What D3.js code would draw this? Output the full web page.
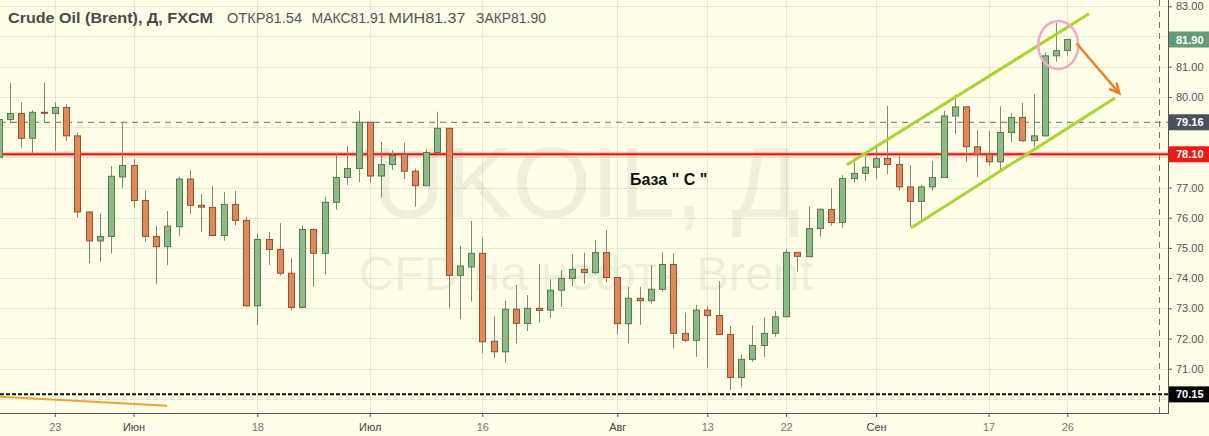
<!DOCTYPE html>
<html><head><meta charset="utf-8">
<script src="https://cdn.jsdelivr.net/npm/d3@7"></script>
<style>
html,body{margin:0;padding:0;background:#fefee9;}
svg{display:block;font-family:"Liberation Sans",Arial,sans-serif;}
</style></head>
<body><svg id="c" width="1209" height="436"></svg>
<script>
// Daily candles, Crude Oil (Brent) FXCM, index 0 = 16 May 2018
const open  = [78.00,79.25,79.45,78.63,79.49,79.45,79.65,78.71,76.19,75.23,75.38,77.35,77.73,76.57,75.38,75.04,75.70,77.28,76.41,76.34,
               75.41,76.44,75.91,73.08,75.28,74.95,74.16,73.03,75.61,74.82,76.51,77.33,77.63,79.16,77.38,77.76,78.10,77.54,77.06,78.16,
               78.96,74.09,74.37,74.82,71.91,71.56,72.97,72.50,73.00,72.94,73.60,73.99,74.29,74.18,74.85,74.02,72.49,73.33,73.25,73.63,
               74.45,72.17,71.94,72.94,72.76,72.13,70.71,71.31,71.77,72.17,72.72,74.85,74.71,75.64,76.27,75.84,77.30,77.47,77.67,77.96,
               77.76,77.02,76.54,77.02,77.33,79.37,79.67,78.35,78.10,77.85,78.82,79.32,78.55,78.71,81.36,81.54];
const high  = [79.39,80.47,79.82,79.56,80.47,79.82,79.75,78.82,76.21,76.14,77.71,79.16,77.94,76.91,75.73,76.22,77.35,77.58,76.80,77.05,
               76.85,76.89,76.02,75.46,75.53,75.82,74.66,75.75,75.64,76.69,78.15,78.37,79.53,79.18,78.51,78.24,78.48,77.63,78.26,79.51,
               78.98,75.07,75.89,75.33,72.74,73.25,73.77,73.44,74.46,73.97,74.26,74.79,74.84,75.26,75.59,74.04,73.71,73.71,74.43,74.86,
               74.82,72.86,73.11,73.07,73.90,72.41,71.47,72.44,72.70,72.91,74.96,74.87,76.38,76.30,76.97,77.41,77.98,78.02,78.35,79.70,
               78.07,77.74,77.08,77.88,79.53,80.08,79.69,78.90,78.87,79.69,79.47,79.80,80.09,81.46,82.45,81.91];
const low   = [77.89,79.12,78.31,78.10,79.14,78.21,78.55,76.00,74.49,74.54,74.82,76.97,76.33,75.20,73.80,74.43,75.40,76.12,75.53,75.39,
               75.24,75.75,73.05,72.44,74.43,74.08,72.92,73.00,73.71,74.12,76.27,77.08,77.18,77.16,76.67,77.58,77.28,76.36,77.04,78.13,
               73.00,72.64,73.22,71.51,71.36,71.20,71.84,72.25,72.53,72.67,73.05,73.73,73.82,74.12,73.86,72.13,71.84,72.45,73.16,73.55,
               71.67,71.87,71.39,71.03,72.13,70.29,70.40,71.23,71.39,72.06,72.70,74.21,74.69,75.37,75.73,75.67,77.16,77.22,77.28,77.44,
               76.89,75.70,75.94,76.89,77.31,78.76,77.85,77.35,77.72,77.60,78.49,78.51,78.35,78.69,81.16,81.37];
const close = [79.25,79.45,78.63,79.49,79.46,79.65,78.71,76.19,75.23,75.38,77.37,77.73,76.57,75.38,75.04,75.72,77.28,76.41,76.35,75.41,
               76.44,75.91,73.08,75.28,74.95,74.16,73.03,75.61,74.82,76.51,77.33,77.63,79.16,77.38,77.76,78.06,77.54,77.06,78.16,78.96,
               74.09,74.40,74.82,71.89,71.56,72.97,72.50,73.00,72.93,73.60,73.99,74.29,74.18,74.85,74.02,72.49,73.33,73.25,73.63,74.45,
               72.17,71.94,72.94,72.76,72.13,70.71,71.31,71.77,72.17,72.72,74.85,74.72,75.64,76.28,75.84,77.30,77.47,77.67,77.96,77.76,
               77.02,76.54,77.02,77.33,79.37,79.67,78.35,78.10,77.85,78.82,79.32,78.55,78.71,81.36,81.53,81.90];

const xTickIndex  = [5,12,23,33,43,55,63,70,78,88,95];
const xTickLabels = ["23","Июн","18","Июл","16","Авг","13","22","Сен","17","26"];
const monthLabels = ["Июн","Июл","Авг","Сен"];
const yTicks = [70,71,72,73,74,75,76,77,78,79,80,81,82,83];

// levels / drawings (index, price)
const levelSupport = 78.10;
const levelPrevClose = 79.16;
const levelLow = 70.15;
const lastPrice = 81.90;
const channelUpper = [[75.42,77.75],[96.93,82.75]];
const channelLower = [[81.11,75.66],[99.24,79.96]];
const orangeLine = [[0,70.07],[15,69.77]];
const arrowPts = [[95.84,81.77],[99.63,80.12]];
const circleCenter = [94.2,81.72];

const W = 1209, H = 436, axisX = 1168, axisY = 413;
const svg = d3.select("#c");
const x = d3.scaleLinear().domain([0,95]).range([-1.5,1067.25]);
const y = d3.scaleLinear().domain([70,83]).range([398.9,6.3]);

svg.append("rect").attr("width",W).attr("height",H).attr("fill","#fefee9");
const plot = svg.append("g");
plot.append("defs").append("clipPath").attr("id","pc").append("rect").attr("width",axisX).attr("height",axisY);
const g = plot.append("g").attr("clip-path","url(#pc)");

// grid
g.selectAll(".hg").data(yTicks).join("line")
  .attr("x1",0).attr("x2",axisX).attr("y1",d=>Math.round(y(d))+0.5).attr("y2",d=>Math.round(y(d))+0.5)
  .attr("stroke","#e9e9cf").attr("stroke-width",1);
g.selectAll(".vg").data(xTickIndex).join("line")
  .attr("y1",0).attr("y2",axisY).attr("x1",d=>Math.round(x(d))+0.5).attr("x2",d=>Math.round(x(d))+0.5)
  .attr("stroke","#e9e9cf").attr("stroke-width",1);

// watermark
g.append("text").attr("x",586).attr("y",217).attr("text-anchor","middle")
  .attr("font-size",101).attr("fill","#000").attr("fill-opacity",0.06).text("UKOIL, Д");
g.append("text").attr("x",586).attr("y",290).attr("text-anchor","middle")
  .attr("font-size",49).attr("fill","#000").attr("fill-opacity",0.06).text("CFD на нефть Brent");

// vertical dashed line near axis
g.append("line").attr("x1",1159.5).attr("x2",1159.5).attr("y1",0).attr("y2",axisY)
  .attr("stroke","#777").attr("stroke-dasharray","6,5");

// horizontal levels
g.append("line").attr("x1",0).attr("x2",axisX).attr("y1",y(levelPrevClose)).attr("y2",y(levelPrevClose))
  .attr("stroke","#6d6d6d").attr("stroke-dasharray","6,5");
g.append("line").attr("x1",0).attr("x2",axisX).attr("y1",y(levelSupport)).attr("y2",y(levelSupport))
  .attr("stroke","#ff9a9a").attr("stroke-width",5).attr("stroke-opacity",0.5);
g.append("line").attr("x1",0).attr("x2",axisX).attr("y1",y(levelSupport)).attr("y2",y(levelSupport))
  .attr("stroke","#f01010").attr("stroke-width",2);
g.append("line").attr("x1",0).attr("x2",axisX).attr("y1",y(levelLow)).attr("y2",y(levelLow))
  .attr("stroke","#111").attr("stroke-width",2).attr("stroke-dasharray","4,2");

// candles
const data = open.map((o,i)=>({i,o,h:high[i],l:low[i],c:close[i]}));
const bw = 6;
const cg = g.append("g");
cg.selectAll(".wick").data(data).join("line")
  .attr("x1",d=>Math.round(x(d.i))+0.5).attr("x2",d=>Math.round(x(d.i))+0.5)
  .attr("y1",d=>y(d.h)).attr("y2",d=>y(d.l))
  .attr("stroke","#7f8a70").attr("stroke-width",1);
cg.selectAll(".body").data(data).join("rect")
  .attr("x",d=>Math.round(x(d.i))-bw/2+0.5).attr("width",bw)
  .attr("y",d=>y(Math.max(d.o,d.c)))
  .attr("height",d=>Math.max(1,Math.abs(y(d.o)-y(d.c))))
  .attr("fill",d=>d.c>=d.o?"#8dbb86":"#e0875c")
  .attr("stroke",d=>d.c>=d.o?"#557a4f":"#97512f").attr("stroke-width",1);

// drawings
const line = d3.line().x(d=>x(d[0])).y(d=>y(d[1]));
g.append("path").attr("d",line(channelUpper)).attr("stroke","#a8d62e").attr("stroke-width",3).attr("fill","none");
g.append("path").attr("d",line(channelLower)).attr("stroke","#a8d62e").attr("stroke-width",3).attr("fill","none");
g.append("path").attr("d",line(orangeLine)).attr("stroke","#e9a53a").attr("stroke-width",2).attr("fill","none");
g.append("ellipse").attr("cx",x(circleCenter[0])).attr("cy",y(circleCenter[1])).attr("rx",20).attr("ry",24)
  .attr("fill","none").attr("stroke","#f3a7c9").attr("stroke-width",2.5);
{
  const x1=x(arrowPts[0][0]), y1=y(arrowPts[0][1]), x2=x(arrowPts[1][0]), y2=y(arrowPts[1][1]);
  const ang=Math.atan2(y2-y1,x2-x1), L=11, A=0.45;
  g.append("line").attr("x1",x1).attr("y1",y1).attr("x2",x2).attr("y2",y2)
    .attr("stroke","#f07d22").attr("stroke-width",2.5);
  g.append("path").attr("d",`M${x2-L*Math.cos(ang-A)},${y2-L*Math.sin(ang-A)}L${x2},${y2}L${x2-L*Math.cos(ang+A)},${y2-L*Math.sin(ang+A)}`)
    .attr("stroke","#f07d22").attr("stroke-width",2.5).attr("fill","none").attr("stroke-linejoin","miter");
}
g.append("text").attr("x",630).attr("y",185).attr("font-size",16).attr("font-weight","bold").attr("fill","#111")
  .text('База " С "');

// title
svg.append("text").attr("x",8).attr("y",23).attr("font-size",15).attr("fill","#4a4a4a").attr("font-weight","600")
  .attr("textLength",205).attr("lengthAdjust","spacingAndGlyphs").text("Crude Oil (Brent), Д, FXCM");
const ohlc = [["ОТКР",open[95]],["МАКС",high[95]],["МИН",low[95]],["ЗАКР",close[95]]];
const tx = [227,311.5,388.5,476];
const tw = [75,74,77,70];
ohlc.forEach((p,k)=>{
  svg.append("text").attr("x",tx[k]).attr("y",23).attr("font-size",14).attr("fill","#555")
    .attr("textLength",tw[k]).attr("lengthAdjust","spacingAndGlyphs")
    .text(p[0]+p[1].toFixed(2));
});

// right axis (labels covered by price tags are not shown)
const tagVals = [lastPrice,levelPrevClose,levelSupport,levelLow];
const ya = svg.append("g").attr("transform",`translate(${axisX},0)`)
  .call(d3.axisRight(y).tickValues(yTicks)
    .tickFormat(d=>tagVals.some(v=>Math.abs(y(v)-y(d))<14)?"":d3.format(".2f")(d))
    .tickSize(4).tickPadding(4));
ya.select(".domain").remove();
ya.selectAll("line").attr("stroke","#555");
ya.selectAll("text").attr("font-size",11).attr("fill","#555").attr("font-family","Liberation Sans, Arial, sans-serif");
svg.append("line").attr("x1",axisX+0.5).attr("x2",axisX+0.5).attr("y1",0).attr("y2",axisY+1).attr("stroke","#555");

// bottom axis
const xa = svg.append("g").attr("transform",`translate(0,${axisY})`)
  .call(d3.axisBottom(x).tickValues(xTickIndex).tickFormat((d,k)=>xTickLabels[k]).tickSize(4).tickPadding(6));
xa.select(".domain").remove();
xa.selectAll("line").attr("stroke","#555");
xa.selectAll("text").attr("font-size",11).attr("font-family","Liberation Sans, Arial, sans-serif")
  .attr("fill",(d,k)=>monthLabels.includes(xTickLabels[k])?"#444":"#777");
svg.append("line").attr("x1",0).attr("x2",axisX+1).attr("y1",axisY+0.5).attr("y2",axisY+0.5).attr("stroke","#555");

// price labels on axis
const tags = [[lastPrice,"#659b76"],[levelPrevClose,"#4b505c"],[levelSupport,"#f01a14"],[levelLow,"#050505"]];
tags.forEach(([v,col])=>{
  const yy = y(v);
  svg.append("rect").attr("x",axisX+1).attr("y",yy-8).attr("width",W-axisX-1).attr("height",16).attr("fill",col);
  svg.append("text").attr("x",axisX+8).attr("y",yy+4).attr("font-size",11).attr("font-weight","bold")
    .attr("fill","#fff").text(v.toFixed(2));
});
</script></body></html>
